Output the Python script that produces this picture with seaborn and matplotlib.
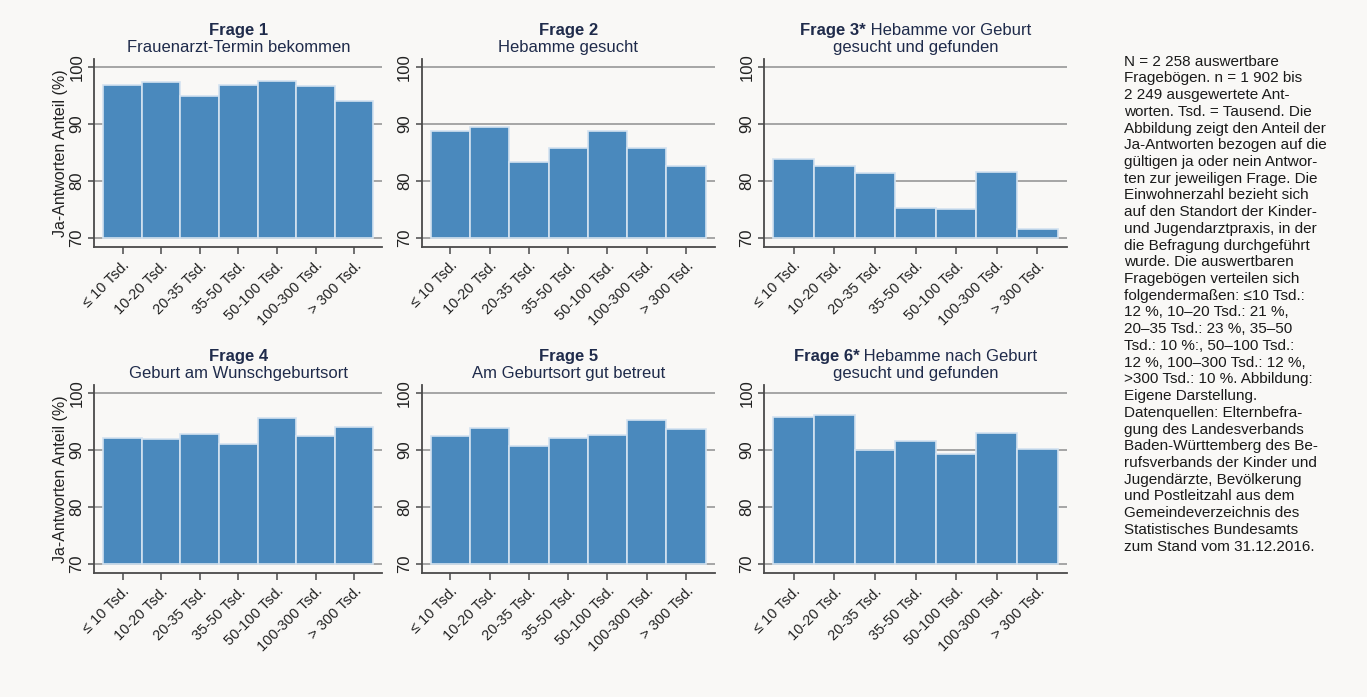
import matplotlib
matplotlib.use("Agg")
import matplotlib.pyplot as plt
import seaborn as sns
import pandas as pd

# Anteil Ja-Antworten (%) je Einwohnerzahl des Praxisstandorts
categories = ["≤ 10 Tsd.", "10-20 Tsd.", "20-35 Tsd.", "35-50 Tsd.",
              "50-100 Tsd.", "100-300 Tsd.", "> 300 Tsd."]
frage1 = [96.9, 97.4, 94.9, 96.8, 97.5, 96.6, 94.1]
frage2 = [88.7, 89.5, 83.4, 85.8, 88.8, 85.8, 82.7]
frage3 = [83.9, 82.6, 81.3, 75.3, 75.1, 81.5, 71.6]
frage4 = [92.1, 91.9, 92.8, 91.1, 95.6, 92.4, 94.0]
frage5 = [92.4, 93.8, 90.7, 92.1, 92.7, 95.3, 93.7]
frage6 = [95.7, 96.1, 90.0, 91.6, 89.3, 92.9, 90.2]

title_bold = ["Frage 1", "Frage 2", "Frage 3*", "Frage 4", "Frage 5", "Frage 6*"]
title_rest = ["", "", " Hebamme vor Geburt", "", "", " Hebamme nach Geburt"]
title_line2 = ["Frauenarzt-Termin bekommen", "Hebamme gesucht", "gesucht und gefunden",
               "Geburt am Wunschgeburtsort", "Am Geburtsort gut betreut", "gesucht und gefunden"]
yticks = [70, 80, 90, 100]
BASE = 70

note_lines = [
    "N = 2 258 auswertbare",
    "Fragebögen. n = 1 902 bis",
    "2 249 ausgewertete Ant-",
    "worten. Tsd. = Tausend. Die",
    "Abbildung zeigt den Anteil der",
    "Ja-Antworten bezogen auf die",
    "gültigen ja oder nein Antwor-",
    "ten zur jeweiligen Frage. Die",
    "Einwohnerzahl bezieht sich",
    "auf den Standort der Kinder-",
    "und Jugendarztpraxis, in der",
    "die Befragung durchgeführt",
    "wurde. Die auswertbaren",
    "Fragebögen verteilen sich",
    "folgendermaßen: ≤10 Tsd.:",
    "12 %, 10–20 Tsd.: 21 %,",
    "20–35 Tsd.: 23 %, 35–50",
    "Tsd.: 10 %:, 50–100 Tsd.:",
    "12 %, 100–300 Tsd.: 12 %,",
    ">300 Tsd.: 10 %. Abbildung:",
    "Eigene Darstellung.",
    "Datenquellen: Elternbefra-",
    "gung des Landesverbands",
    "Baden-Württemberg des Be-",
    "rufsverbands der Kinder und",
    "Jugendärzte, Bevölkerung",
    "und Postleitzahl aus dem",
    "Gemeindeverzeichnis des",
    "Statistisches Bundesamts",
    "zum Stand vom 31.12.2016.",
]

BG = "#f9f8f6"
BAR = "#4a89bd"
TITLE = "#1f2b4b"

sns.set_theme(style="white")
plt.rcParams["font.family"] = ["Liberation Sans", "DejaVu Sans"]

fig = plt.figure(figsize=(13.67, 6.97), dpi=100, facecolor=BG)

lefts = [0.069, 0.3085, 0.5589]
widths = [0.2107, 0.2143, 0.2217]
bottoms = [0.645, 0.1775]
height = 0.2705

series = [frage1, frage2, frage3, frage4, frage5, frage6]
renderer = fig.canvas.get_renderer()

for i, vals in enumerate(series):
    row, col = divmod(i, 3)
    ax = fig.add_axes([lefts[col], bottoms[row], widths[col], height])
    ax.set_facecolor(BG)
    df = pd.DataFrame({"kat": categories, "anteil": vals})
    df["hoehe"] = df["anteil"] - BASE
    sns.barplot(data=df, x="kat", y="hoehe", ax=ax, color=BAR, saturation=1,
                width=1, bottom=BASE, edgecolor="#d3e2f0", linewidth=1.2)
    ax.set_xlim(-0.73, 6.73)
    ax.set_ylim(68.3, 101.45)
    ax.set_yticks(yticks)
    ax.set_yticklabels([str(t) for t in yticks], rotation=90, va="center")
    ax.yaxis.grid(True, color="#8f8f8f", linewidth=1.1)
    ax.set_axisbelow(True)
    for s in ["top", "right"]:
        ax.spines[s].set_visible(False)
    for s in ["left", "bottom"]:
        ax.spines[s].set_color("#4a4a4a")
        ax.spines[s].set_linewidth(1.3)
    ax.tick_params(axis="x", length=5, width=1.1, color="#4a4a4a", pad=3,
                   labelsize=10.5, labelcolor="#222222", bottom=True)
    ax.tick_params(axis="y", length=4, width=1.1, color="#4a4a4a", pad=3,
                   labelsize=12, labelcolor="#222222", left=True)
    ax.set_xticks(range(len(categories)))
    ax.set_xticklabels(categories, rotation=45, ha="right", rotation_mode="anchor")
    ax.set_xlabel("")
    if col == 0:
        ax.set_ylabel("Ja-Antworten Anteil (%)", fontsize=11.5, color="#222222")
        ax.yaxis.set_label_coords(-0.09, 0.5)
    else:
        ax.set_ylabel("")

    # zweizeiliger Titel, erste Zeile teils fett
    tb = ax.text(0, 1.15, title_bold[i], transform=ax.transAxes, fontsize=12,
                 weight="bold", color=TITLE, ha="left", va="center")
    tr = ax.text(0, 1.15, title_rest[i], transform=ax.transAxes, fontsize=12,
                 color=TITLE, ha="left", va="center")
    axw = ax.get_window_extent(renderer).width
    wb = tb.get_window_extent(renderer).width
    wr = tr.get_window_extent(renderer).width if title_rest[i] else 0
    x0 = 0.5 - (wb + wr) / 2 / axw
    tb.set_x(x0)
    tr.set_x(x0 + wb / axw)
    ax.text(0.5, 1.062, title_line2[i], transform=ax.transAxes, fontsize=12,
            color=TITLE, ha="center", va="center")

# Anmerkungen rechts
y0 = 1 - 61.7 / 697
step = 16.72 / 697
for k, line in enumerate(note_lines):
    fig.text(0.8222, y0 - k * step, line, fontsize=11, color="#1a1a1a",
             ha="left", va="center")

fig.savefig("out.png", dpi=100, facecolor=BG)
